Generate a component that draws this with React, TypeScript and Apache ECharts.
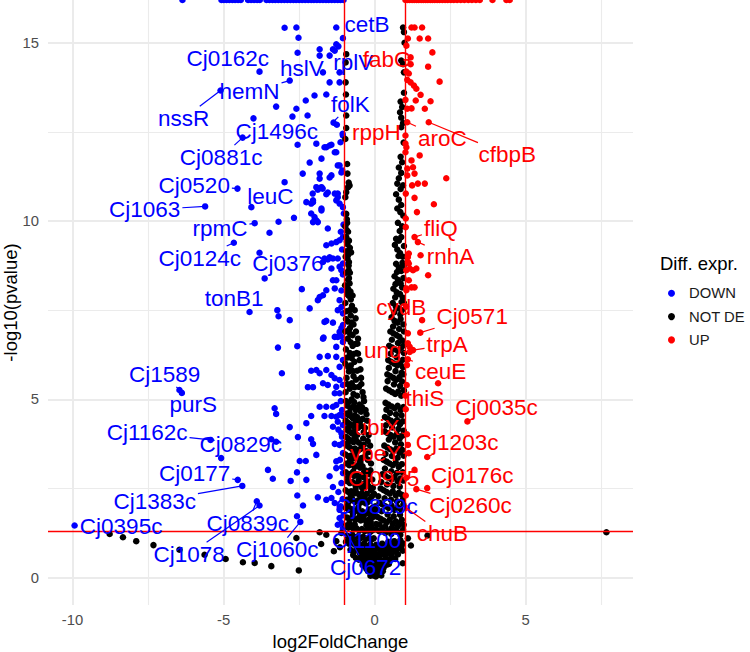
import React, { useEffect, useRef } from "react";
import * as echarts from "echarts";

// ---------- axis extents (ggplot default 5% expansion of the data range) ----------
const X_MIN = -10.81;
const X_MAX = 8.55;
const Y_MIN = -0.77;
const Y_MAX = 16.2; // infinite -log10(p) values are drawn at the panel edge

const xTicks = [-10, -5, 0, 5];
const yTicks = [0, 5, 10, 15];
const xMinorGrid = [-7.5, -2.5, 2.5, 7.5];
const yMinorGrid = [2.5, 7.5, 12.5];
const lfcCut = [-1, 1];
const pCut = 1.30103; // -log10(0.05)

// ---------- data ----------
const downPoints: number[][] = [
  [-2.98,15.42],[-2.59,15.43],[-2.52,15.14],[-2.55,14.72],[-3.81,14.19],[-2.81,13.94],[-5.10,13.66],[-3.26,13.21],[-2.59,13.15],[-2.28,13.38],[-1.99,13.52],[-1.60,13.55],[-2.72,12.93],[-2.22,12.96],[-4.01,12.88],[-4.37,12.34],[-1.36,12.76],[-1.25,12.70],[-2.55,12.14],[-1.93,12.17],[-1.60,12.07],[-1.43,12.14],[-1.27,11.93],[-1.13,12.21],[-1.06,12.45],[-2.15,11.64],[-1.76,11.75],[-2.38,11.33],[-1.82,11.33],[-1.43,11.28],[-1.16,11.56],[-1.07,11.42],[-2.98,11.09],[-1.93,10.95],[-1.72,10.91],[-2.05,10.77],[-1.60,10.75],[-1.22,10.77],[-4.54,10.91],
  [-1.27,15.43],[-1.05,15.13],[-1.27,14.96],[-1.38,14.82],[-1.20,14.90],[-1.82,14.82],[-1.82,14.64],[-1.49,14.64],[-1.32,14.78],[-1.71,14.17],[-1.16,14.17],[-1.49,13.89],[-1.16,13.89],[-1.05,12.40],[-1.49,12.12],[-1.66,12.07],[-1.32,11.93],[-1.22,11.56],[-1.10,11.36],[-1.82,11.19],[-1.49,11.22],[-1.76,10.95],[-1.88,10.88],[-1.32,10.77],[-1.22,10.67],[-1.27,10.58],[-1.16,10.49],[-1.05,10.39],[-1.55,10.80],[-2.04,10.58],[-2.10,10.49],[-1.76,10.30],[-1.02,10.21],
  [-3.97,9.94],[-3.18,9.98],[-2.67,10.09],[-3.48,9.67],[-4.66,9.39],[-3.81,9.11],[-3.64,8.39],[-2.41,8.09],[-4.14,7.45],[-3.22,7.50],[-3.18,7.33],[-2.81,7.22],[-2.15,7.55],[-3.20,6.45],[-2.56,6.49],[-3.07,5.73],[-5.61,10.41],[-4.08,10.39],
  [-2.26,10.53],[-2.04,10.53],[-1.76,10.35],[-2.10,10.21],[-1.99,10.11],[-1.93,10.02],[-2.04,9.97],[-1.88,9.97],[-1.55,9.79],[-1.60,9.32],[-1.43,9.37],[-1.27,9.41],[-1.16,9.46],[-1.05,9.55],[-1.38,8.95],[-1.22,8.95],[-1.55,8.92],[-1.71,8.85],[-1.43,8.67],[-1.05,8.81],[-1.10,8.62],[-1.60,8.06],[-1.71,7.92],[-1.82,7.87],[-1.88,7.78],[-1.27,8.34],[-1.32,8.11],[-1.16,7.78],[-1.10,7.59],[-1.05,7.41],[-1.22,7.50],[-1.66,7.17],[-1.38,7.15],[-1.05,7.08],[-1.16,6.89],[-1.22,6.75],[-1.05,6.61],[-1.27,6.47],[-1.69,6.73],[-1.32,6.75],[-1.82,6.19],[-1.55,6.21],[-1.27,6.19],[-1.05,6.10],[-1.16,5.91],[-2.10,5.80],[-1.93,5.82],[-1.82,5.73],[-1.60,5.82],[-1.43,5.68],[-1.32,5.59],[-1.16,5.54],[-2.21,5.34],[-2.04,5.34],[-1.71,5.45],[-1.55,5.40],[-1.27,5.35],[-1.05,5.40],[-1.32,5.17],[-1.16,5.17],
  [-1.66,8.95],[-1.49,8.98],[-1.16,8.72],[-1.38,8.34],[-1.10,8.05],[-1.60,7.20],[-1.10,7.00],[-1.71,6.70],[-1.10,6.76],[-1.05,8.50],[-1.08,9.20],[-1.03,9.90],[-1.12,9.70],
  [-3.31,4.75],[-3.26,4.59],[-2.81,4.22],[-2.26,4.33],[-2.10,4.53],[-1.82,4.79],[-1.60,4.79],[-1.38,4.79],[-1.27,4.84],[-1.16,4.56],[-1.05,4.53],[-1.66,4.53],[-1.43,4.53],[-1.27,4.51],[-2.54,3.94],[-2.10,3.88],[-2.04,3.75],[-1.93,3.44],[-1.32,3.75],[-1.16,3.72],[-1.05,3.77],[-1.10,4.05],[-1.38,4.23],[-1.22,4.37],[-1.05,4.28],[-3.42,3.88],[-3.26,3.81],[-5.43,3.86],[-5.08,3.35],[-2.48,3.27],[-2.28,3.27],[-3.53,3.02],[-3.37,2.77],[-4.53,2.74],[-4.38,2.57],[-2.78,2.71],[-2.57,2.95],[-2.26,2.74],[-1.49,2.84],[-1.38,2.54],[-1.10,2.65],[-1.27,3.07],[-1.05,2.93],[-1.27,3.26],[-1.05,3.49],[-2.56,2.30],[-2.37,2.02],[-1.88,2.25],[-1.60,2.18],[-1.43,2.23],[-1.32,2.09],[-3.90,2.14],[-3.81,2.02],[-2.57,1.72],[-2.46,1.56],[-1.16,1.90],[-1.16,1.67],[-1.22,1.48],[-1.05,1.34],[-9.93,1.46],[-6.46,5.26],[-6.38,5.18],[-1.05,1.39],[-1.10,1.53],
  [-1.12,4.95],[-1.08,4.70],[-1.20,4.15],[-1.08,3.95],[-1.15,3.30],[-1.08,3.10],[-1.20,2.40],[-1.06,2.20],[-1.12,2.00],[-1.03,1.75],
];
const downInfX = [-6.36,-5.07,-4.99,-4.90,-4.81,-4.71,-4.62,-4.52,-4.43,-4.19,-4.09,-3.99,-3.89,-3.80,-3.58,-3.48,-3.38,-3.29,-3.19,-3.09,-2.99,-2.89,-2.79,-2.69,-2.60,-2.50,-2.40,-2.30,-2.20,-2.10,-2.01,-1.91,-1.81,-1.71,-1.61,-1.52,-1.42,-1.32,-1.22,-1.13,-1.03];

const upPoints: number[][] = [
  [1.22,15.43],[1.32,15.43],[1.57,15.43],[1.10,15.12],[1.49,15.12],[1.77,15.12],[1.91,14.73],[1.05,14.92],[1.19,14.59],[1.19,14.40],[1.05,14.19],[1.13,14.14],[1.77,14.33],[2.15,13.91],[1.08,13.96],[1.19,13.89],[1.30,13.80],[1.38,13.71],[1.52,13.54],[1.36,13.38],[1.85,13.36],[1.02,13.40],[1.08,13.15],[1.22,13.16],[1.66,13.15],[1.08,12.77],[1.79,12.77],[1.02,12.40],[1.02,12.17],[1.05,12.07],[1.02,11.93],[1.22,11.70],[1.27,11.51],[1.08,11.47],[1.49,11.84],[1.32,11.33],[1.08,11.28],[1.43,11.05],[1.66,11.05],[1.24,11.00],[1.03,10.77],[1.32,10.65],[2.37,11.20],[1.40,10.25],[1.96,10.47],[1.03,10.07],[1.03,9.83],[1.32,9.55],[1.43,9.41],[1.52,9.04],[1.13,9.09],[1.13,8.81],[1.05,8.62],[1.27,8.62],[1.77,8.48],[1.13,8.34],[1.05,8.06],[1.10,8.99],[1.10,8.85],[1.38,8.67],[1.16,8.67],[1.22,8.14],[1.32,8.14],[1.05,8.11],[1.57,7.22],[1.51,6.87],[1.27,6.38],[1.10,6.85],[1.10,6.57],[1.16,6.33],[1.10,6.12],[1.07,5.96],[1.16,6.47],[2.10,5.45],[1.03,4.72],[3.07,4.38],[1.07,4.02],[1.10,3.72],[1.13,3.49],[1.74,3.38],[1.32,3.02],[1.74,2.51],[1.38,2.48],[1.05,1.95],[1.04,7.60],[1.06,5.40],[1.02,5.10],[1.05,2.80],[1.03,2.30],
];
const upInfX = [1.02,1.09,1.16,1.24,1.31,1.39,1.46,1.54,1.61,1.69,1.76,1.84,1.91,1.99,2.07,2.15,2.24,2.33,2.42,2.52,2.62,2.73,2.85,2.97,3.10,3.22,3.35,3.48,3.90,4.36,4.47];

const notDePoints: number[][] = [
  [-0.94,14.68],[-0.96,13.89],[-0.94,12.96],[-0.94,12.61],[-0.90,11.33],[-0.83,11.00],[-0.88,10.95],[-0.94,10.81],[-0.97,10.67],[-0.92,10.05],[-0.96,14.45],[-0.95,13.55],[-0.97,12.30],[-0.91,11.60],[-0.86,11.08],
  [-0.94,10.20],[-0.91,9.95],[-0.88,9.70],[-0.85,9.45],[-0.82,9.25],[-0.88,9.05],[-0.85,8.85],[-0.82,8.55],[-0.85,8.40],[-0.88,8.10],[-0.85,7.90],[-0.79,7.80],[-0.82,7.50],[-0.79,7.35],[-0.76,7.15],[-0.82,7.00],[-0.73,6.80],[-0.79,6.60],[-0.73,6.50],[-0.82,6.30],[-0.76,6.15],[-0.79,5.95],[-0.73,5.80],[-0.70,5.65],[-0.76,5.45],[-0.82,5.30],[-0.70,5.15],[-0.76,5.00],
  [-0.92,9.74],[-0.94,9.55],[-0.90,9.35],[-0.94,9.15],[-0.90,8.95],[-0.86,8.75],[-0.94,8.55],[-0.88,8.35],[-0.83,8.25],[-0.90,8.00],
  [-0.97,9.85],[-0.96,9.00],[-0.98,8.20],[-0.97,7.70],[-0.95,7.25],[-0.97,6.90],[-0.95,6.40],[-0.97,6.00],[-0.93,5.60],[-0.96,5.20],[-0.91,7.95],[-0.89,6.70],[-0.87,5.90],[-0.85,6.95],
  [-0.62,6.90],[-0.55,6.70],[-0.60,6.30],[-0.50,6.10],[-0.58,5.80],[-0.45,5.60],[-0.52,5.35],[-0.40,5.20],[-0.66,7.50],[-0.70,7.10],[-0.64,6.55],[-0.67,6.05],[-0.62,5.55],[-0.58,5.10],
  [-0.93,7.47],[-0.81,6.83],[-0.69,6.27],[-0.91,6.17],[-0.57,6.56],[-0.47,5.84],[-0.85,5.78],[-0.66,5.34],[-0.91,5.43],[-0.44,5.43],[-0.73,7.91],[-0.86,8.62],[-0.78,9.12],[-0.92,9.42],[-0.80,8.02],[-0.75,7.62],[-0.88,7.18],[-0.63,7.27],[-0.55,6.28],[-0.37,5.06],
  [-0.95,4.95],[-0.88,4.90],[-0.80,4.75],[-0.70,4.80],[-0.62,4.70],[-0.92,4.60],[-0.85,4.55],[-0.75,4.50],[-0.66,4.55],[-0.58,4.50],[-0.50,4.85],[-0.35,4.95],[-0.45,4.65],[-0.30,4.70],[-0.40,4.45],
  [-0.96,4.40],[-0.89,4.35],[-0.80,4.30],[-0.72,4.25],[-0.63,4.35],[-0.55,4.20],[-0.93,4.15],[-0.84,4.10],[-0.76,4.05],[-0.67,4.10],[-0.58,4.00],[-0.25,4.40],[-0.32,4.20],[-0.20,4.00],[-0.45,4.25],[-0.38,3.90],
  [-0.95,3.95],[-0.88,3.90],[-0.79,3.85],[-0.70,3.80],[-0.61,3.85],[-0.52,3.78],[-0.92,3.70],[-0.83,3.65],[-0.74,3.60],[-0.65,3.62],[-0.56,3.55],[-0.48,3.60],[-0.15,3.70],[-0.28,3.55],[-0.36,3.72],
  [-0.96,3.45],[-0.87,3.40],[-0.78,3.42],[-0.69,3.35],[-0.60,3.38],[-0.51,3.30],[-0.43,3.35],[-0.93,3.20],[-0.84,3.15],[-0.75,3.18],[-0.66,3.10],[-0.57,3.15],[-0.48,3.08],[-0.40,3.12],[-0.22,3.30],[-0.12,3.20],[-0.30,3.00],
  [-0.95,2.95],[-0.86,2.90],[-0.77,2.92],[-0.68,2.85],[-0.59,2.88],[-0.50,2.82],[-0.41,2.85],[-0.34,2.80],[-0.91,2.70],[-0.82,2.65],[-0.73,2.68],[-0.64,2.60],[-0.55,2.65],[-0.46,2.58],[-0.37,2.62],[-0.30,2.55],[-0.18,2.90],[-0.08,2.75],[-0.25,2.70],
  [-0.96,2.45],[-0.87,2.40],[-0.78,2.42],[-0.69,2.35],[-0.60,2.38],[-0.51,2.32],[-0.42,2.36],[-0.33,2.30],[-0.26,2.35],[-0.92,2.18],[-0.83,2.15],[-0.74,2.20],[-0.65,2.12],[-0.56,2.16],[-0.47,2.10],[-0.38,2.14],[-0.29,2.08],[-0.22,2.12],[-0.12,2.45],[-0.02,2.35],[-0.15,2.20],
  [-0.95,1.95],[-0.86,1.90],[-0.77,1.92],[-0.68,1.85],[-0.59,1.88],[-0.50,1.82],[-0.41,1.86],[-0.32,1.80],[-0.24,1.84],[-0.17,1.78],[-0.91,1.68],[-0.82,1.65],[-0.73,1.70],[-0.64,1.62],[-0.55,1.66],[-0.46,1.60],[-0.37,1.64],[-0.28,1.58],[-0.20,1.62],[-0.13,1.56],[0.02,2.00],[-0.08,1.95],[-0.05,1.70],
  [-0.96,1.45],[-0.87,1.40],[-0.78,1.42],[-0.69,1.35],[-0.60,1.38],[-0.51,1.32],[-0.42,1.36],[-0.33,1.30],[-0.24,1.34],[-0.15,1.28],[-0.08,1.32],[-0.92,1.18],[-0.83,1.15],[-0.74,1.20],[-0.65,1.12],[-0.56,1.16],[-0.47,1.10],[-0.38,1.14],[-0.29,1.08],[-0.20,1.12],[-0.11,1.06],[-0.03,1.10],[0.05,1.50],
  [-0.91,4.82],[-0.83,4.63],[-0.68,4.92],[-0.57,4.77],[-0.42,4.78],[-0.27,4.58],[-0.87,4.21],[-0.71,4.46],[-0.49,4.37],[-0.36,4.08],[-0.23,3.83],[-0.89,3.77],[-0.66,3.96],[-0.43,3.66],[-0.31,3.41],[-0.19,3.52],[-0.81,3.29],[-0.62,3.51],[-0.47,3.24],[-0.35,2.96],[-0.14,3.01],[-0.88,2.81],[-0.71,2.97],[-0.53,2.73],[-0.41,2.51],[-0.21,2.57],[-0.06,2.52],[-0.79,2.29],[-0.63,2.49],[-0.44,2.23],[-0.31,2.19],[-0.09,2.28],[-0.89,2.03],[-0.72,1.79],[-0.54,1.97],[-0.36,1.73],[-0.19,1.91],[-0.02,1.82],[-0.84,1.53],[-0.66,1.49],[-0.49,1.71],[-0.27,1.47],[-0.11,1.43],
  [0.94,15.43],[0.97,15.30],[0.99,15.00],[0.88,14.50],[0.94,14.40],[0.97,14.17],[0.86,13.35],[0.91,13.20],[0.84,13.05],[0.88,12.90],[0.94,12.75],[0.88,12.63],[0.86,11.80],[0.91,11.65],[0.80,11.50],[0.88,11.35],[0.80,11.20],[0.75,11.05],[0.86,10.90],[0.71,10.75],[0.80,10.60],[0.88,10.45],[0.75,10.35],[0.94,11.00],[0.96,12.20],[0.97,13.60],[0.95,10.15],
  [0.71,9.50],[0.80,9.45],[0.88,9.55],[0.75,9.20],[0.84,9.10],[0.93,9.00],[0.71,8.80],[0.80,8.70],[0.88,8.60],[0.66,8.45],[0.77,8.35],[0.86,8.25],[0.95,8.40],[0.62,8.10],[0.73,8.00],[0.84,7.95],[0.93,7.85],[0.60,7.70],[0.70,7.60],[0.80,7.55],[0.90,7.50],[0.56,7.30],[0.66,7.20],[0.76,7.15],[0.86,7.25],[0.95,7.10],[0.52,6.90],[0.62,6.85],[0.72,6.80],[0.82,6.75],[0.92,6.65],[0.48,6.50],[0.58,6.45],[0.68,6.40],[0.78,6.35],[0.88,6.45],[0.97,6.30],[0.45,6.10],[0.55,6.05],[0.65,6.00],[0.75,5.95],[0.85,6.02],[0.94,5.90],[0.42,5.70],[0.52,5.65],[0.62,5.60],[0.72,5.55],[0.82,5.62],[0.91,5.50],[0.38,5.30],[0.48,5.25],[0.58,5.20],[0.68,5.15],[0.78,5.22],[0.88,5.10],[0.97,5.25],[0.97,9.30],[0.96,8.75],[0.97,7.70],[0.97,6.90],[0.95,5.70],
  [0.43,5.51],[0.64,5.42],[0.84,5.37],[0.47,5.88],[0.69,5.79],[0.89,5.74],[0.53,6.28],[0.73,6.18],[0.93,6.11],[0.57,6.67],[0.77,6.58],[0.97,6.52],[0.61,7.04],[0.81,6.97],[0.65,7.44],[0.85,7.38],[0.68,7.86],[0.89,7.73],[0.69,8.23],[0.91,8.14],[0.74,8.57],[0.92,8.83],[0.79,9.02],[0.67,9.33],[0.83,9.72],[0.77,9.95],[0.91,9.85],[0.85,10.25],
  [0.36,4.90],[0.46,4.85],[0.56,4.80],[0.66,4.75],[0.76,4.82],[0.86,4.70],[0.95,4.78],[0.34,4.50],[0.44,4.45],[0.54,4.40],[0.64,4.35],[0.74,4.42],[0.84,4.30],[0.93,4.38],[0.33,4.10],[0.43,4.05],[0.53,4.00],[0.63,3.95],[0.73,4.02],[0.83,3.90],[0.92,3.98],[0.32,3.70],[0.42,3.65],[0.52,3.60],[0.62,3.55],[0.72,3.62],[0.82,3.50],[0.91,3.58],[0.30,3.30],[0.40,3.25],[0.50,3.20],[0.60,3.15],[0.70,3.22],[0.80,3.10],[0.90,3.18],[0.26,2.90],[0.36,2.85],[0.46,2.80],[0.56,2.75],[0.66,2.82],[0.76,2.70],[0.86,2.78],[0.95,2.72],[0.20,2.50],[0.30,2.45],[0.40,2.40],[0.50,2.35],[0.60,2.42],[0.70,2.30],[0.80,2.38],[0.90,2.32],[0.16,2.10],[0.26,2.05],[0.36,2.00],[0.46,1.95],[0.56,2.02],[0.66,1.90],[0.76,1.98],[0.86,1.92],[0.95,2.05],[0.10,1.70],[0.20,1.65],[0.30,1.60],[0.40,1.55],[0.50,1.62],[0.60,1.50],[0.70,1.58],[0.80,1.52],[0.90,1.62],[0.05,1.35],[0.15,1.30],[0.25,1.38],[0.35,1.25],[0.45,1.32],[0.55,1.22],[0.65,1.35],[0.75,1.28],[0.85,1.20],[0.94,1.34],
  [0.39,4.71],[0.51,4.62],[0.71,4.58],[0.89,4.55],[0.37,4.27],[0.58,4.21],[0.79,4.17],[0.96,4.12],[0.47,3.87],[0.68,3.79],[0.87,3.74],[0.36,3.47],[0.57,3.41],[0.76,3.36],[0.96,3.42],[0.34,3.06],[0.55,2.98],[0.74,2.94],[0.93,2.95],[0.22,2.68],[0.41,2.61],[0.62,2.57],[0.83,2.55],[0.12,2.28],[0.33,2.22],[0.54,2.18],[0.74,2.14],[0.93,2.18],[0.08,1.91],[0.23,1.86],[0.43,1.77],[0.63,1.72],[0.84,1.76],[0.16,1.49],[0.35,1.43],[0.56,1.39],[0.77,1.44],[0.96,1.48],
  [-0.95,1.00],[-0.85,0.95],[-0.75,1.02],[-0.65,0.92],[-0.55,0.98],[-0.45,0.90],[-0.35,0.95],[-0.25,0.88],[-0.15,0.93],[-0.05,0.86],[0.05,0.92],[0.15,0.85],[0.25,0.95],[0.35,0.88],[0.45,1.00],[0.55,0.90],[0.65,1.02],[0.75,0.94],[0.85,1.05],[0.93,0.96],
  [-0.80,0.78],[-0.70,0.72],[-0.60,0.80],[-0.50,0.70],[-0.40,0.76],[-0.30,0.68],[-0.20,0.74],[-0.10,0.66],[0.00,0.72],[0.10,0.64],[0.20,0.70],[0.30,0.66],[0.40,0.74],[0.50,0.68],[0.60,0.78],[0.70,0.72],[0.80,0.82],[0.93,0.75],
  [-0.62,0.55],[-0.52,0.50],[-0.42,0.56],[-0.32,0.48],[-0.22,0.54],[-0.12,0.46],[-0.02,0.52],[0.08,0.44],[0.18,0.50],[0.28,0.46],[0.38,0.54],[0.48,0.48],[0.58,0.56],[0.68,0.52],[0.93,0.40],
  [-0.40,0.35],[-0.30,0.30],[-0.20,0.36],[-0.10,0.28],[0.00,0.34],[0.10,0.26],[0.20,0.32],[0.30,0.28],[0.40,0.36],
  [-0.22,0.18],[-0.12,0.14],[-0.02,0.20],[0.08,0.12],[0.18,0.16],[-0.05,0.06],[0.04,0.03],[0.12,0.08],
  [-0.87,1.08],[-0.69,0.97],[-0.52,0.86],[-0.33,0.82],[-0.12,0.78],[0.08,0.81],[0.27,0.79],[0.49,0.84],[0.71,0.87],[0.89,0.88],[-0.71,0.63],[-0.46,0.64],[-0.26,0.61],[-0.06,0.60],[0.14,0.58],[0.35,0.59],[0.56,0.62],[0.77,0.65],[-0.36,0.43],[-0.16,0.41],[0.04,0.40],[0.24,0.41],[0.47,0.38],[-0.27,0.24],[-0.08,0.23],[0.13,0.21],[0.27,0.18],[-0.14,0.05],[0.22,0.06],
  [-8.77,1.22],[-8.33,1.13],[-7.89,1.02],[-7.32,0.91],[-6.46,0.78],[-5.63,0.64],[-4.93,0.52],[-4.36,0.43],[-3.97,0.41],[-3.42,0.32],[-2.51,0.20],[-1.82,1.27],[-1.60,1.20],[-1.77,0.94],[-2.59,1.11],[-1.35,0.74],[-1.27,1.02],[-1.10,1.25],[-1.15,0.85],[1.75,1.18],[7.67,1.27],[1.10,1.10],[1.20,0.90],
];

// labelled genes: gene, group, point (log2FC, -log10 p), repelled label anchor
const labelGenes = ["cetB","Cj0162c","hslV","rplV","hemN","nssR","folK","Cj1496c","Cj0881c","Cj0520","leuC","Cj1063","rpmC","Cj0124c","Cj0376","tonB1","Cj1589","purS","Cj1162c","Cj0829c","Cj0177","Cj1383c","Cj0395c","Cj0839c","Cj1078","Cj1060c","Cj0889c","Cj1100","Cj0672",
  "fabG","rppH","aroC","cfbpB","fliQ","rnhA","cydB","Cj0571","trpA","ung","ceuE","thiS","Cj0035c","ubiX","Cj1203c","ybeY","Cj0975","Cj0176c","Cj0260c","chuB"];
const labelGroups = ["DOWN","DOWN","DOWN","DOWN","DOWN","DOWN","DOWN","DOWN","DOWN","DOWN","DOWN","DOWN","DOWN","DOWN","DOWN","DOWN","DOWN","DOWN","DOWN","DOWN","DOWN","DOWN","DOWN","DOWN","DOWN","DOWN","DOWN","DOWN","DOWN",
  "UP","UP","UP","UP","UP","UP","UP","UP","UP","UP","UP","UP","UP","UP","UP","UP","UP","UP","UP","UP"];
const labelPoints = [
  [-1.05,15.13],[-3.81,14.19],[-2.55,14.72],[-1.38,14.82],[-2.81,13.94],[-5.10,13.66],[-1.38,12.77],[-4.01,12.88],[-4.37,12.34],[-4.54,10.91],[-4.08,10.39],[-5.61,10.41],[-3.97,9.94],[-4.66,9.39],[-3.81,9.11],[-4.14,7.45],[-6.46,5.26],[-6.38,5.18],[-5.43,3.86],[-5.08,3.35],[-4.53,2.74],[-4.38,2.57],[-9.93,1.46],[-3.90,2.14],[-3.81,2.02],[-2.46,1.56],[-1.16,1.67],[-1.05,1.39],[-1.10,1.53],
  [1.13,14.14],[1.02,12.40],[1.08,12.77],[1.79,12.77],[1.32,9.55],[1.43,9.41],[1.57,7.22],[1.51,6.87],[1.27,6.38],[1.16,6.33],[1.10,6.12],[1.03,4.72],[3.07,4.38],[1.07,4.02],[1.74,3.38],[1.13,3.49],[1.32,3.02],[1.74,2.51],[1.38,2.48],[1.05,1.95],
];
const labelAnchors = [
  [-0.25,15.50],[-4.86,14.57],[-2.41,14.29],[-0.71,14.45],[-4.14,13.63],[-6.32,12.88],[-0.80,13.26],[-3.24,12.51],[-5.08,11.79],[-5.97,11.01],[-3.45,10.69],[-7.61,10.31],[-5.12,9.78],[-5.79,8.96],[-2.87,8.82],[-4.65,7.84],[-6.95,5.69],[-6.00,4.85],[-7.53,4.06],[-4.43,3.73],[-5.96,2.93],[-7.28,2.14],[-8.39,1.42],[-4.20,1.53],[-6.14,0.65],[-3.22,0.78],[0.06,2.00],[-0.27,1.04],[-0.30,0.29],
  [0.41,14.54],[0.06,12.49],[2.24,12.32],[4.39,11.86],[2.19,9.78],[2.51,9.00],[0.88,7.58],[3.23,7.32],[2.40,6.53],[0.27,6.37],[2.18,5.78],[1.66,5.02],[4.03,4.78],[0.08,4.22],[2.73,3.78],[0.03,3.47],[0.30,2.77],[3.23,2.86],[3.17,2.02],[2.24,1.23],
];

// ---------- styles ----------
const FONT = '"Liberation Sans", Arial, Helvetica, sans-serif';
const BLUE = "#0000FF";
const RED = "#FF0000";
const BLACK = "#000000";
const GRID = "#EBEBEB";
const LABEL_SIZE = 22.5;

let measureCtx: CanvasRenderingContext2D | null = null;
function textWidth(t: string, size: number) {
  if (!measureCtx) measureCtx = document.createElement("canvas").getContext("2d");
  if (!measureCtx) return t.length * size * 0.55;
  measureCtx.font = `${size}px ${FONT}`;
  return measureCtx.measureText(t).width;
}

export default function App() {
  const ref = useRef<HTMLDivElement>(null);
  useEffect(() => {
    if (!ref.current) return;
    const chart = echarts.init(ref.current, null, { renderer: "svg" });
    const gridLines = [
      ...xTicks.map((v) => ({ xAxis: v, lineStyle: { color: GRID, width: 2, type: "solid" } })),
      ...xMinorGrid.map((v) => ({ xAxis: v, lineStyle: { color: GRID, width: 1.1, type: "solid" } })),
      ...yTicks.map((v) => ({ yAxis: v, lineStyle: { color: GRID, width: 2, type: "solid" } })),
      ...yMinorGrid.map((v) => ({ yAxis: v, lineStyle: { color: GRID, width: 1.1, type: "solid" } })),
    ];
    const cutLines = [
      ...lfcCut.map((v) => ({ xAxis: v })),
      { yAxis: pCut },
    ];
    const pointStyle = (c: string) => ({ color: c, opacity: 1 });
    const option: any = {
      animation: false,
      grid: { left: 48, right: 117, top: 0, bottom: 47, outerBoundsMode: "none", containLabel: false },
      xAxis: {
        type: "value", min: X_MIN, max: X_MAX,
        axisLine: { show: false }, axisTick: { show: false }, splitLine: { show: false },
        axisLabel: { customValues: xTicks, margin: 7, fontSize: 14.8, color: "#4D4D4D", fontFamily: FONT },
        name: "log2FoldChange", nameLocation: "middle", nameGap: 25,
        nameTextStyle: { fontSize: 18.5, color: "#000", fontFamily: FONT },
      },
      yAxis: {
        type: "value", min: Y_MIN, max: Y_MAX,
        axisLine: { show: false }, axisTick: { show: false }, splitLine: { show: false },
        axisLabel: { customValues: yTicks, margin: 9, fontSize: 14.8, color: "#4D4D4D", fontFamily: FONT },
        name: "-log10(pvalue)", nameLocation: "middle", nameGap: 28, nameMoveOverlap: false,
        nameTextStyle: { fontSize: 18.5, color: "#000", fontFamily: FONT },
      },
      legend: {
        data: ["DOWN", "NOT DE", "UP"], orient: "vertical", left: 668, top: 285.3,
        itemWidth: 7, itemHeight: 7, itemGap: 7.3, icon: "circle", padding: 0, selectedMode: false,
        textStyle: { fontSize: 14.8, fontFamily: FONT, color: "#1A1A1A", lineHeight: 16, padding: [0, 0, 0, 9] },
      },
      graphic: [
        {
          type: "text", x: 660, y: 263.5,
          style: { text: "Diff. expr.", fill: "#000", fontSize: 18.5, fontFamily: FONT, align: "left", textAlign: "left", verticalAlign: "middle", textVerticalAlign: "middle" },
        },
      ],
      series: [
        {
          type: "scatter", data: [], silent: true, z: 0,
          markLine: { silent: true, symbol: ["none", "none"], label: { show: false }, z: 0, emphasis: { disabled: true }, data: gridLines },
        },
        {
          name: "DOWN", type: "scatter", symbolSize: 6.5, clip: false, z: 2,
          itemStyle: pointStyle(BLUE),
          data: [...downPoints, ...downInfX.map((x) => [x, Y_MAX])],
        },
        {
          name: "NOT DE", type: "scatter", symbolSize: 6.5, clip: false, z: 2,
          itemStyle: pointStyle(BLACK),
          data: notDePoints,
        },
        {
          name: "UP", type: "scatter", symbolSize: 6.5, clip: false, z: 2,
          itemStyle: pointStyle(RED),
          data: [...upPoints, ...upInfX.map((x) => [x, Y_MAX])],
        },
        {
          type: "scatter", data: [], silent: true, z: 5,
          markLine: {
            silent: true, symbol: ["none", "none"], label: { show: false }, z: 5, emphasis: { disabled: true },
            lineStyle: { color: RED, width: 1.4, type: "solid" }, data: cutLines,
          },
        },
        {
          type: "custom", z: 10, clip: false, silent: true,
          data: labelPoints.map((p, i) => [p[0], p[1], labelAnchors[i][0], labelAnchors[i][1]]),
          renderItem: (params: any, api: any) => {
            const i = params.dataIndex;
            const p = api.coord([api.value(0), api.value(1)]);
            const a = api.coord([api.value(2), api.value(3)]);
            const text = labelGenes[i];
            const color = labelGroups[i] === "UP" ? RED : BLUE;
            const hw = textWidth(text, LABEL_SIZE) / 2 + 2;
            const hh = LABEL_SIZE * 0.45 + 2;
            const dx = p[0] - a[0];
            const dy = p[1] - a[1];
            const tx = dx !== 0 ? hw / Math.abs(dx) : Infinity;
            const ty = dy !== 0 ? hh / Math.abs(dy) : Infinity;
            const t = Math.min(tx, ty);
            const children: any[] = [];
            if (t < 1) {
              const sx = a[0] + dx * t;
              const sy = a[1] + dy * t;
              if (Math.hypot(p[0] - sx, p[1] - sy) > 4) {
                children.push({ type: "line", shape: { x1: sx, y1: sy, x2: p[0], y2: p[1] }, style: { stroke: color, lineWidth: 1.2 } });
              }
            }
            children.push({
              type: "text", x: a[0], y: a[1],
              style: { text, fill: color, fontSize: LABEL_SIZE, fontFamily: FONT, align: "center", textAlign: "center", verticalAlign: "middle", textVerticalAlign: "middle" },
            });
            return { type: "group", children };
          },
        },
      ],
    };
    chart.setOption(option);
    return () => chart.dispose();
  }, []);
  return <div ref={ref} style={{ position: "absolute", left: 0, top: 0, width: 750, height: 652, background: "#fff" }} />;
}
